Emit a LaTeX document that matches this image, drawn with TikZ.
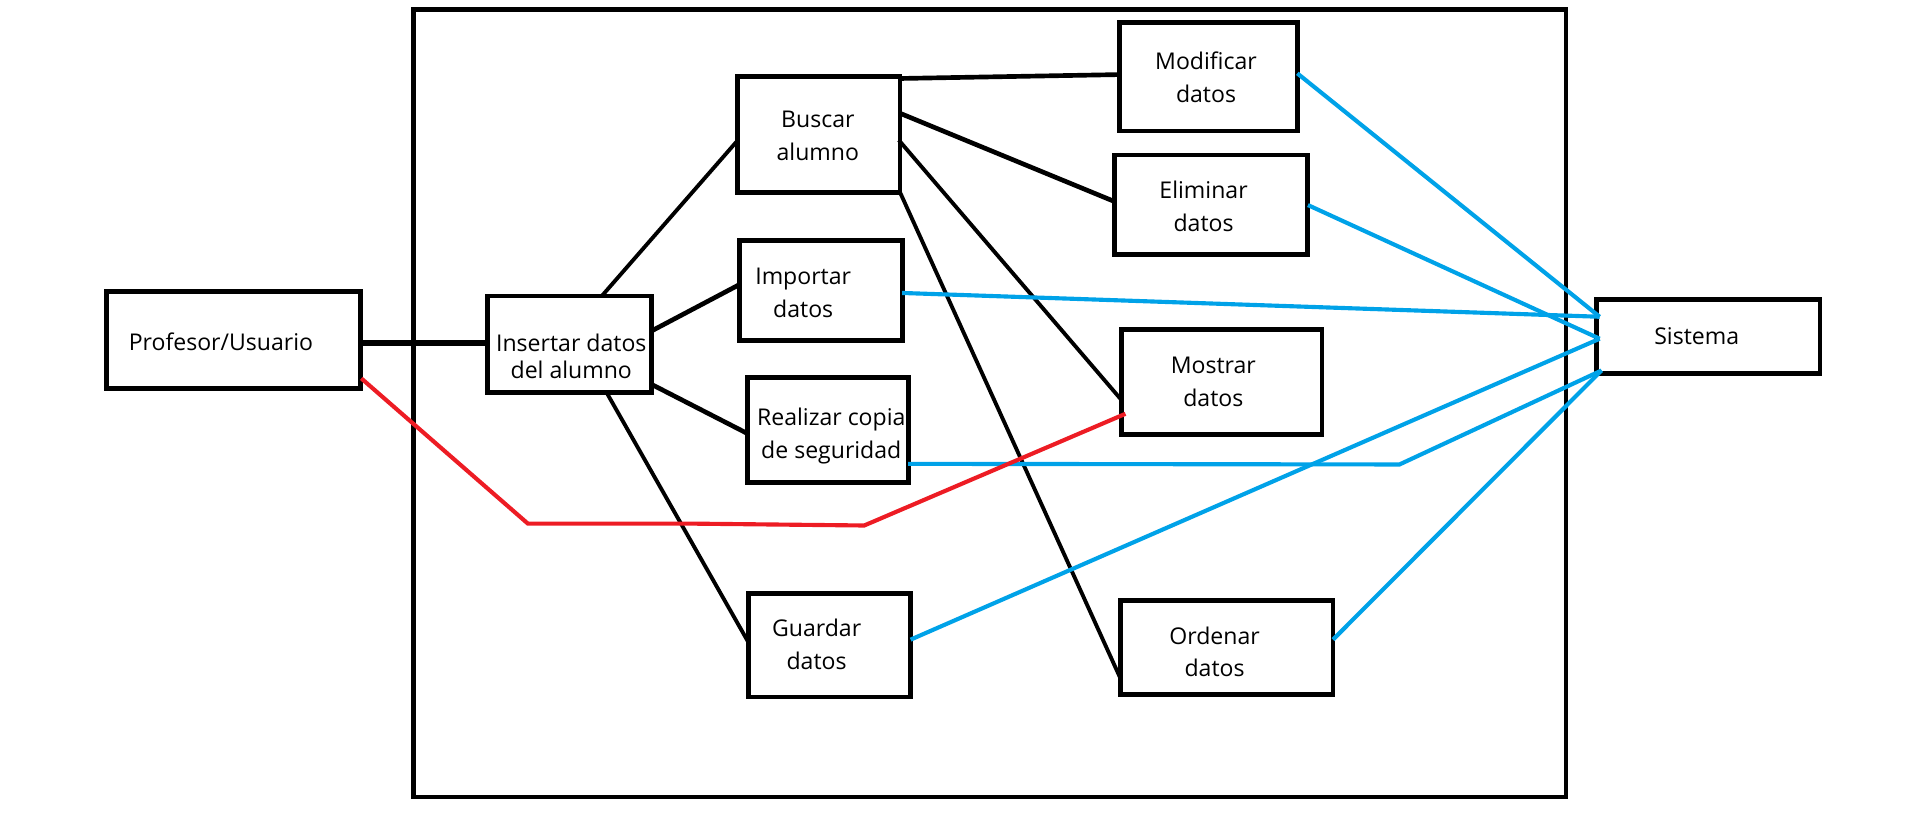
\documentclass[tikz,border=0pt]{standalone}
\usepackage{fontspec}
\setmainfont{Open Sans}
\usetikzlibrary{calc}
\definecolor{pblue}{HTML}{00A2E8}
\definecolor{pred}{HTML}{ED1C24}
\newcommand\mkbox[6][]{\node[bx,#1, minimum width={(#4-#2)*0.9155pt}, minimum height={(#6-#3)*0.9155pt}] (#5) at ({(#2+#4)/2},{(#3+#6)/2}) {};}
\begin{document}
\begin{tikzpicture}[x=0.9155pt, y=-0.9155pt,
  bx/.style={draw, line width=3.7pt, inner sep=0pt, outer sep=0pt},
  txt/.style={align=center, font=\fontsize{17.3}{24.7}\selectfont, inner sep=0pt},
  conn/.style={draw=black, line width=2.9pt},
  thick conn/.style={draw=black, line width=3.5pt},
  bl/.style={draw=pblue, line width=3.1pt},
  rd/.style={draw=pred, line width=3.1pt}]
\useasboundingbox (0,0) rectangle (1568,680.8);
% boxes: \mkbox{x1}{y1}{x2}{name}{y2}
\mkbox[line width=3.5pt]{339}{8}{1283}{frame}{653}
\mkbox{87}{239}{295}{prof}{318}
\mkbox{399}{242.5}{534}{ins}{321.7}
\mkbox{604.5}{62.8}{737.3}{bus}{157.5}
\mkbox{606}{197}{739}{imp}{279}
\mkbox{612}{309}{744}{real}{395}
\mkbox{613}{486}{746}{guard}{571}
\mkbox{917.2}{18.6}{1062.8}{mod}{107.3}
\mkbox{912.8}{127}{1071.5}{elim}{208.3}
\mkbox{919}{270}{1083}{most}{356}
\mkbox{918}{492}{1092}{ord}{569}
\mkbox{1307.5}{245}{1491}{sis}{306}
% texts
\node[txt] (tprof) at (181,280) {Profesor/Usuario};
\node[txt, font=\fontsize{17.3}{19.9}\selectfont] (tins) at (468,292) {Insertar datos\\del alumno};
\node[txt] (tbus) at (670,111) {Buscar\\alumno};
\node[txt] (timp) at (658,240) {Importar\\datos};
\node[txt] (treal) at (681,357) {Realizar copia\\de seguridad};
\node[txt] (tguard) at (669,528) {Guardar\\datos};
\node[txt] (tmod) at (988,63) {Modificar\\datos};
\node[txt] (telim) at (986,169) {Eliminar\\datos};
\node[txt] (tmost) at (994,313) {Mostrar\\datos};
\node[txt] (tord) at (995,534) {Ordenar\\datos};
\node[txt] (tsis) at (1390,275) {Sistema};
% black connectors
\draw[thick conn, line width=3.8pt] ($(prof.north east)+(0,42)$) -- ($(ins.north west)+(0,38.5)$);
\draw[conn] ($(ins.north west)+(94,0)$) -- ($(bus.north west)+(0,52)$);
\draw[thick conn] ($(ins.north east)+(0,28.5)$) -- ($(imp.north west)+(0,36)$);
\draw[thick conn] ($(ins.north east)+(0,72.5)$) -- ($(real.north west)+(0,46)$);
\draw[conn] ($(ins.south west)+(98,0)$) -- ($(guard.north west)+(0,40)$);
\draw[thick conn] ($(bus.north east)+(0,1.5)$) -- ($(mod.north west)+(0,42.5)$);
\draw[thick conn] ($(bus.north east)+(0,30)$) -- ($(elim.north west)+(0,38)$);
\draw[conn] ($(bus.north east)+(-1,52)$) -- ($(most.north west)+(0,58)$);
\draw[conn] (bus.south east) -- ($(ord.north west)+(0,64)$);
% blue connectors
\coordinate (sA) at ($(sis.north west)+(3,14.5)$);
\coordinate (sB) at ($(sis.north west)+(3,32.5)$);
\coordinate (sC) at ($(sis.north west)+(4.5,58.5)$);
\coordinate (rbend) at (1146.5,380.5);
\draw[bl] ($(mod.north east)+(0,41.5)$) -- (sA);
\draw[bl] ($(elim.north east)+(0,41)$) -- (sB);
\draw[bl] ($(imp.north east)+(0,43)$) -- (sA);
\draw[bl] ($(real.north east)+(0,71)$) -- (rbend) -- (sC);
\draw[bl] ($(guard.north east)+(0,38)$) -- (sB);
\draw[bl] ($(ord.north east)+(0,32)$) -- (sC);
% red connector
\coordinate (r1) at (432.5,429);
\coordinate (r2) at (570,429);
\coordinate (r3) at (708,430.5);
\draw[rd] ($(prof.south east)+(1,-8)$) -- (r1) -- (r2) -- (r3) -- ($(most.north west)+(3,69)$);
\end{tikzpicture}
\end{document}
